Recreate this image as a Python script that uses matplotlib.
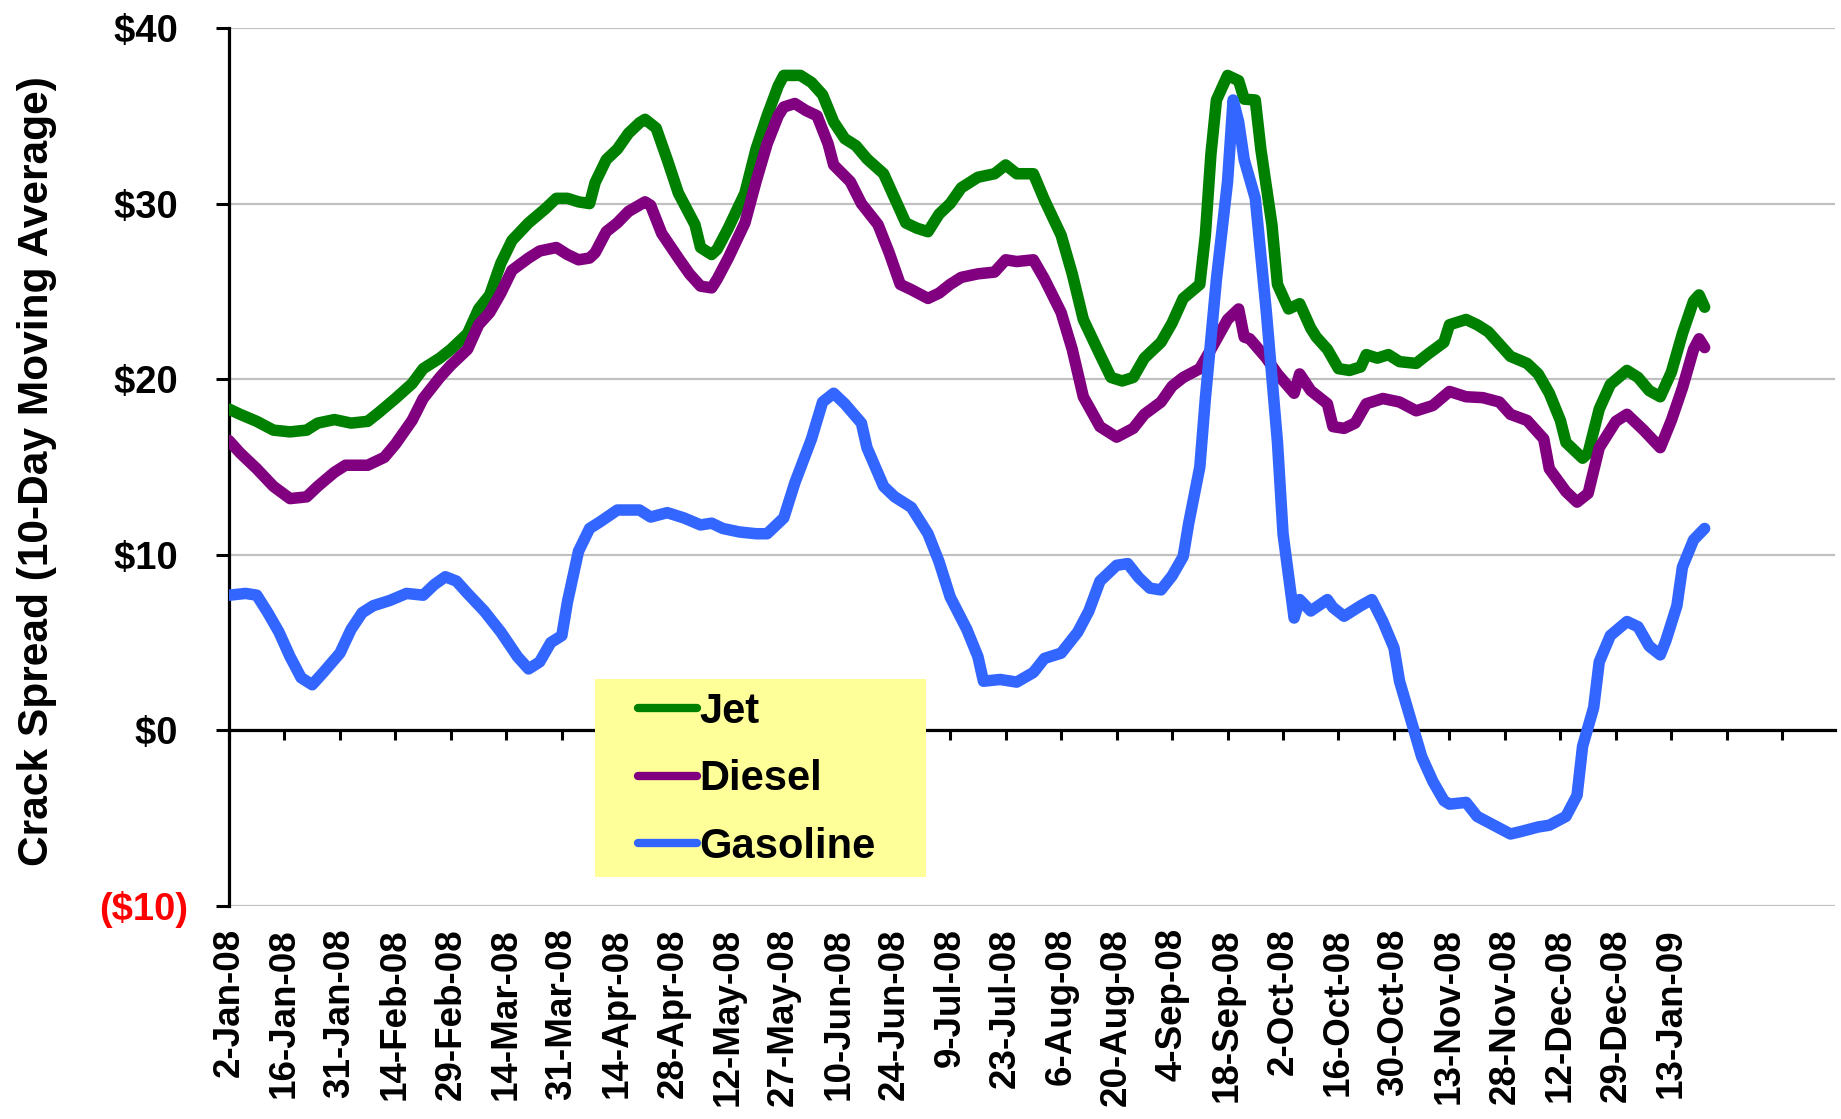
import matplotlib
matplotlib.use("Agg")
import matplotlib.pyplot as plt
from matplotlib.patches import Rectangle
from matplotlib.lines import Line2D

# ---------------- data (business-day index, $/bbl) ----------------
jet_days = [0, 2, 5, 8, 11, 14, 16, 19, 22, 25, 27, 30, 33, 35, 38, 40, 43, 45, 47, 49,
            51, 54, 57, 59, 61, 63, 65, 66, 68, 70, 72, 74, 75, 77, 79, 81, 84, 85, 87, 88,
            90, 93, 95, 97, 99, 100, 103, 105, 107, 109, 111, 113, 115, 118, 120, 122, 124,
            126, 128, 130, 132, 135, 138, 140, 142, 145, 147, 150, 152, 154, 157, 159, 161,
            163, 165, 168, 170, 172, 175, 176, 177, 178, 180, 182, 183, 185, 186, 188, 189,
            191, 193, 195, 196, 198, 200, 202, 204, 205, 207, 209, 211, 214, 216, 219, 220,
            223, 225, 227, 229, 231, 234, 236, 238, 240, 241, 244, 245, 247, 249, 252, 254,
            256, 258, 260, 262, 264, 265, 266]
jet_vals = [18.3, 18.0, 17.6, 17.1, 17.0, 17.1, 17.5, 17.7, 17.5, 17.6, 18.1, 18.9, 19.75,
            20.6, 21.2, 21.7, 22.6, 24.0, 24.8, 26.6, 27.9, 28.9, 29.7, 30.3, 30.3, 30.1,
            30.0, 31.2, 32.5, 33.1, 34.0, 34.6, 34.8, 34.3, 32.5, 30.6, 28.8, 27.5, 27.1,
            27.4, 28.6, 30.6, 33.1, 35.0, 36.7, 37.3, 37.3, 36.9, 36.2, 34.65, 33.7, 33.3,
            32.55, 31.7, 30.3, 28.9, 28.6, 28.4, 29.4, 30.0, 30.9, 31.5, 31.7, 32.2, 31.7,
            31.7, 30.2, 28.2, 26.0, 23.4, 21.4, 20.1, 19.9, 20.1, 21.2, 22.1, 23.2, 24.6,
            25.4, 28.2, 32.8, 35.9, 37.3, 37.0, 35.95, 35.9, 33.1, 28.8, 25.4, 24.0, 24.3,
            22.9, 22.4, 21.7, 20.6, 20.5, 20.7, 21.4, 21.2, 21.4, 21.0, 20.9, 21.4, 22.1,
            23.1, 23.4, 23.1, 22.7, 22.0, 21.3, 20.9, 20.3, 19.2, 17.65, 16.4, 15.5, 15.8,
            18.3, 19.7, 20.5, 20.1, 19.35, 19.0, 20.4, 22.6, 24.45, 24.8, 24.1]

diesel_days = [0, 2, 5, 8, 11, 14, 16, 19, 21, 25, 28, 30, 33, 35, 38, 40, 43, 45, 47, 49,
               51, 54, 56, 59, 61, 63, 65, 66, 68, 70, 72, 75, 76, 78, 81, 83, 85, 87, 88,
               90, 93, 95, 97, 99, 100, 102, 104, 106, 108, 109, 112, 114, 117, 119, 121,
               123, 126, 128, 130, 132, 135, 138, 140, 142, 145, 147, 150, 152, 154, 157,
               160, 163, 165, 168, 170, 172, 175, 177, 180, 182, 183, 184, 187, 189, 192,
               193, 195, 198, 199, 201, 203, 205, 208, 211, 214, 217, 220, 223, 226, 229,
               231, 234, 237, 238, 241, 243, 245, 247, 250, 252, 255, 258, 260, 262, 264,
               265, 266]
diesel_vals = [16.5, 15.8, 14.9, 13.9, 13.2, 13.3, 13.9, 14.7, 15.1, 15.1, 15.55, 16.3,
               17.65, 18.9, 20.1, 20.8, 21.7, 23.1, 23.8, 24.9, 26.2, 26.9, 27.3, 27.5,
               27.1, 26.8, 26.9, 27.2, 28.4, 28.9, 29.55, 30.1, 29.9, 28.3, 26.9, 26.0,
               25.3, 25.2, 25.7, 26.9, 28.9, 31.25, 33.4, 35.0, 35.5, 35.7, 35.3, 35.0,
               33.4, 32.2, 31.25, 30.0, 28.8, 27.2, 25.4, 25.1, 24.6, 24.9, 25.4, 25.8,
               26.0, 26.1, 26.8, 26.7, 26.8, 25.7, 23.8, 21.7, 19.0, 17.3, 16.7, 17.2, 18.0,
               18.7, 19.6, 20.1, 20.6, 21.7, 23.4, 24.0, 22.4, 22.3, 21.2, 20.3, 19.2, 20.3,
               19.35, 18.6, 17.3, 17.2, 17.5, 18.6, 18.9, 18.7, 18.2, 18.5, 19.3, 19.0,
               18.95, 18.7, 18.0, 17.65, 16.6, 14.9, 13.6, 13.0, 13.5, 16.1, 17.6, 18.0,
               17.1, 16.1, 17.65, 19.5, 21.7, 22.3, 21.8]

gasoline_days = [0, 3, 5, 7, 9, 11, 13, 15, 17, 20, 22, 24, 26, 29, 32, 35, 37, 39, 41, 43,
                 46, 49, 52, 54, 56, 58, 60, 61, 63, 65, 67, 70, 74, 76, 79, 82, 85, 87, 89,
                 92, 95, 97, 100, 102, 105, 107, 109, 111, 114, 115, 118, 120, 123, 126, 128,
                 130, 133, 135, 136, 139, 142, 145, 147, 150, 153, 155, 157, 160, 162, 164,
                 166, 168, 170, 172, 173, 175, 176, 178, 180, 181, 182, 183, 185, 187, 189,
                 190, 192, 193, 195, 198, 199, 201, 204, 206, 208, 210, 211, 213, 215, 217,
                 219, 220, 223, 225, 228, 231, 233, 236, 238, 241, 243, 244, 246, 247, 249,
                 252, 254, 256, 258, 259, 261, 262, 264, 266]
gasoline_vals = [7.7, 7.8, 7.7, 6.7, 5.6, 4.2, 3.0, 2.6, 3.3, 4.4, 5.75, 6.7, 7.1, 7.4, 7.8,
                 7.7, 8.3, 8.75, 8.5, 7.8, 6.8, 5.6, 4.2, 3.5, 3.9, 5.0, 5.4, 7.3, 10.2, 11.5,
                 11.9, 12.55, 12.55, 12.15, 12.4, 12.1, 11.7, 11.8, 11.5, 11.3, 11.2, 11.2,
                 12.1, 14.1, 16.6, 18.7, 19.2, 18.6, 17.5, 16.1, 13.9, 13.3, 12.7, 11.2, 9.6,
                 7.6, 5.75, 4.2, 2.8, 2.9, 2.75, 3.3, 4.1, 4.4, 5.6, 6.8, 8.5, 9.4, 9.5, 8.7,
                 8.1, 8.0, 8.8, 9.9, 11.8, 15.0, 18.9, 25.7, 31.25, 35.9, 34.65, 32.5, 30.3,
                 23.8, 16.4, 11.2, 6.4, 7.45, 6.8, 7.45, 7.0, 6.5, 7.1, 7.45, 6.2, 4.7, 2.8,
                 0.65, -1.5, -2.9, -4.0, -4.2, -4.1, -4.9, -5.4, -5.9, -5.75, -5.5, -5.4,
                 -4.9, -3.7, -0.9, 1.3, 3.9, 5.4, 6.2, 5.9, 4.8, 4.3, 5.1, 7.1, 9.3, 10.85,
                 11.5]

date_labels = ["2-Jan-08", "16-Jan-08", "31-Jan-08", "14-Feb-08", "29-Feb-08", "14-Mar-08",
               "31-Mar-08", "14-Apr-08", "28-Apr-08", "12-May-08", "27-May-08", "10-Jun-08",
               "24-Jun-08", "9-Jul-08", "23-Jul-08", "6-Aug-08", "20-Aug-08", "4-Sep-08",
               "18-Sep-08", "2-Oct-08", "16-Oct-08", "30-Oct-08", "13-Nov-08", "28-Nov-08",
               "12-Dec-08", "29-Dec-08", "13-Jan-09"]
label_step = 10          # one label every 10 business days
n_categories = 290       # category slots on the axis
y_ticks = [-10, 0, 10, 20, 30, 40]
y_labels = ["($10)", "$0 ", "$10 ", "$20 ", "$30 ", "$40 "]

series_names = ["Jet", "Diesel", "Gasoline"]
series_colors = ["#008000", "#800080", "#3366ff"]

# ---------------- figure ----------------
W, H = 1841, 1119
fig = plt.figure(figsize=(W / 100, H / 100), dpi=100)
fig.patch.set_facecolor("white")
FONT = "Liberation Sans"

ax = fig.add_axes([229 / W, 213 / H, (1835 - 229) / W, (906 - 28) / H])
ax.set_xlim(0, n_categories - 0.5)
ax.set_ylim(-10, 40)

for days, vals, c in zip([jet_days, diesel_days, gasoline_days],
                         [jet_vals, diesel_vals, gasoline_vals], series_colors):
    ax.plot(days, vals, color=c, lw=8.3, solid_joinstyle="round",
            solid_capstyle="round", zorder=3)

# y axis
ax.set_yticks(y_ticks)
ax.set_yticklabels(y_labels, fontfamily=FONT, fontweight="bold", fontsize=27.5)
for t in ax.get_yticklabels():
    t.set_color("black")
ax.get_yticklabels()[0].set_color("red")
ax.tick_params(axis="y", direction="out", length=9.5, width=2.2, color="black", pad=20)
ax.yaxis.grid(True, color="#c0c0c0", lw=1.6)
ax.set_axisbelow(True)

# category axis crossing at $0 with tick marks
ax.spines["bottom"].set_position(("data", 0))
ax.spines["bottom"].set_linewidth(2.3)
ax.spines["bottom"].set_zorder(2.6)
ax.spines["left"].set_linewidth(2.3)
ax.spines["top"].set_visible(False)
ax.spines["right"].set_visible(False)
ax.set_xticks(list(range(0, n_categories - 5, label_step)))
ax.tick_params(axis="x", direction="out", length=7.5, width=2.2, labelbottom=False)

# date labels at the bottom of the plot
sec = ax.secondary_xaxis("bottom")
sec.set_xticks([i * label_step for i in range(len(date_labels))])
sec.set_xticklabels(date_labels, rotation=90, fontfamily=FONT, fontweight="bold",
                    fontsize=26.5)
sec.tick_params(axis="x", length=0, pad=16)
sec.spines["bottom"].set_visible(False)

ax.set_ylabel("Crack Spread (10-Day Moving Average)", fontfamily=FONT,
              fontweight="bold", fontsize=30.6)
ax.yaxis.set_label_coords(-(229 - 57) / (1835 - 229), (906 - 471) / (906 - 28))

# legend box
fig.add_artist(Rectangle((595 / W, (H - 876.7) / H), 331 / W, 197.4 / H,
                         transform=fig.transFigure, facecolor="#ffff99",
                         edgecolor="none", zorder=1))
handles = [Line2D([], [], color=c, lw=6, solid_capstyle="round") for c in series_colors]
fig.legend(handles, series_names, loc="upper left",
           bbox_to_anchor=(638 / W, (H - 692) / H), frameon=False,
           prop={"family": FONT, "weight": "bold", "size": 30},
           handlelength=1.42, handletextpad=0.05, labelspacing=0.66,
           borderpad=0, borderaxespad=0)

fig.savefig("out.png", dpi=100)
